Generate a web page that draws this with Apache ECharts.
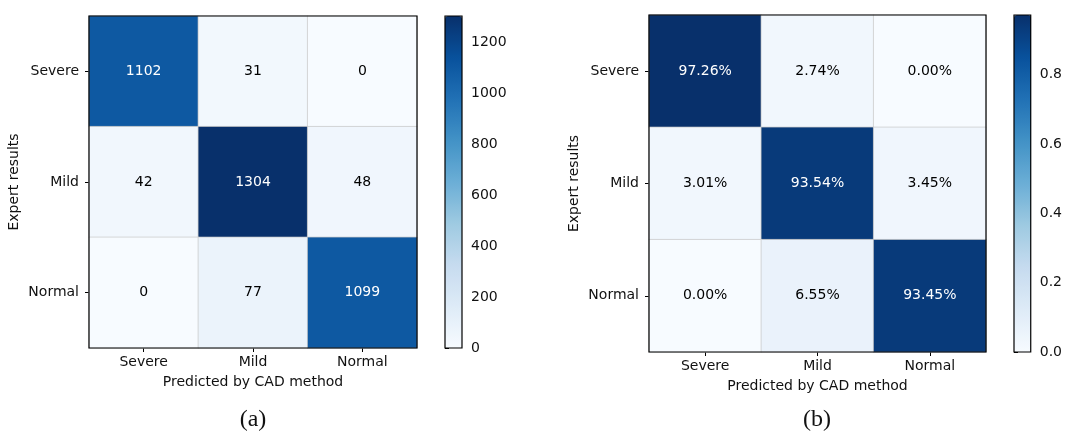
<!DOCTYPE html>
<html>
<head>
<meta charset="utf-8">
<script src="https://cdn.jsdelivr.net/npm/echarts@6/dist/echarts.min.js"></script>
<style>
  html, body { margin: 0; padding: 0; background: #fff; }
  #chart { width: 1065px; height: 431px; }
</style>
</head>
<body>
<div id="chart"></div>
<script>
const classes = ["Severe", "Mild", "Normal"];

// rows = expert results, columns = predicted by CAD method
const countRows = [
  [1102, 31, 0],
  [42, 1304, 48],
  [0, 77, 1099],
];
const rateRows = [
  [0.9726, 0.0274, 0.0],
  [0.0301, 0.9354, 0.0345],
  [0.0, 0.0655, 0.9345],
];

const countTicks = [0, 200, 400, 600, 800, 1000, 1200];
const rateTicks = [0, 0.2, 0.4, 0.6, 0.8];

// matplotlib "Blues"
const blues = ["#f7fbff", "#deebf7", "#c6dbef", "#9ecae1", "#6baed6", "#4292c6", "#2171b5", "#08519c", "#08306b"];

const font = "DejaVu Sans";
const textColor = "#111";

const toCells = (rows) => {
  const max = Math.max(...rows.flat());
  const out = [];
  rows.forEach((row, i) => {
    row.forEach((v, j) => {
      out.push({ value: [j, i, v], label: { color: v > max / 2 ? "#fff" : "#000" } });
    });
  });
  return out;
};

const countMax = Math.max(...countRows.flat());
const rateMax = Math.max(...rateRows.flat());

const heatX = (gridIndex) => ({
  type: "category",
  gridIndex,
  data: classes,
  position: "bottom",
  axisLine: { show: false },
  axisTick: { show: true, alignWithLabel: true, length: 4, lineStyle: { color: "#000" } },
  axisLabel: { fontFamily: font, fontSize: 14, color: textColor, margin: 7 },
  splitLine: { show: false },
  name: "Predicted by CAD method",
  nameLocation: "middle",
  nameGap: 27,
  nameTextStyle: { fontFamily: font, fontSize: 14, color: textColor },
});

const heatY = (gridIndex) => ({
  type: "category",
  gridIndex,
  data: classes,
  inverse: true,
  axisLine: { show: false },
  axisTick: { show: true, alignWithLabel: true, length: 4, lineStyle: { color: "#000" } },
  axisLabel: { fontFamily: font, fontSize: 14, color: textColor, margin: 10 },
  splitLine: { show: false },
  name: "Expert results",
  nameLocation: "middle",
  nameRotate: 90,
  nameGap: 68,
  nameTextStyle: { fontFamily: font, fontSize: 14, color: textColor },
});

const barX = (gridIndex) => ({ type: "value", gridIndex, show: false, min: 0, max: 1 });

const barY = (gridIndex, max, ticks, fmt) => ({
  type: "value",
  gridIndex,
  position: "right",
  min: 0,
  max,
  axisLine: { show: false },
  splitLine: { show: false },
  axisTick: { show: true, length: 4, customValues: ticks, lineStyle: { color: "#000" } },
  axisLabel: {
    fontFamily: font, fontSize: 14, color: textColor, margin: 9,
    customValues: ticks, formatter: fmt,
  },
});

const frame = { show: true, z: 10, backgroundColor: "transparent", borderColor: "#000", borderWidth: 1.2 };

const heatSeries = (idx, cells, fmt) => ({
  type: "heatmap",
  xAxisIndex: idx,
  yAxisIndex: idx,
  data: cells,
  itemStyle: { borderColor: "rgba(200,200,200,0.7)", borderWidth: 1 },
  label: { show: true, fontFamily: font, fontSize: 14, formatter: fmt },
  emphasis: { disabled: true },
});

const chart = echarts.init(document.getElementById("chart"), null, { renderer: "canvas" });

chart.setOption({
  backgroundColor: "#fff",
  animation: false,
  grid: [
    { left: 89, top: 16, width: 328, height: 332, ...frame },
    { left: 445, top: 16, width: 17, height: 332, ...frame },
    { left: 649, top: 15, width: 337, height: 337, ...frame },
    { left: 1014, top: 15, width: 17, height: 337, ...frame },
  ],
  xAxis: [heatX(0), barX(1), heatX(2), barX(3)],
  yAxis: [
    heatY(0),
    barY(1, countMax, countTicks, (v) => String(v)),
    heatY(2),
    barY(3, rateMax, rateTicks, (v) => v.toFixed(1)),
  ],
  visualMap: [
    {
      type: "continuous", seriesIndex: 0, min: 0, max: countMax,
      inRange: { color: blues }, calculable: false, orient: "vertical",
      left: 445, top: 16, itemWidth: 17, itemHeight: 332, padding: 0, z: 1,
      text: null, showLabel: false,
    },
    {
      type: "continuous", seriesIndex: 1, min: 0, max: rateMax,
      inRange: { color: blues }, calculable: false, orient: "vertical",
      left: 1014, top: 15, itemWidth: 17, itemHeight: 337, padding: 0, z: 1,
      text: null, showLabel: false,
    },
  ],
  series: [
    heatSeries(0, toCells(countRows), (p) => String(p.value[2])),
    heatSeries(2, toCells(rateRows), (p) => (p.value[2] * 100).toFixed(2) + "%"),
  ],
  graphic: [
    {
      type: "text", x: 253, y: 420,
      style: { text: "(a)", font: "24px 'Liberation Serif'", fill: "#111",
        align: "center", verticalAlign: "middle", textAlign: "center", textVerticalAlign: "middle" },
    },
    {
      type: "text", x: 817, y: 420,
      style: { text: "(b)", font: "24px 'Liberation Serif'", fill: "#111",
        align: "center", verticalAlign: "middle", textAlign: "center", textVerticalAlign: "middle" },
    },
  ],
});
</script>
</body>
</html>
